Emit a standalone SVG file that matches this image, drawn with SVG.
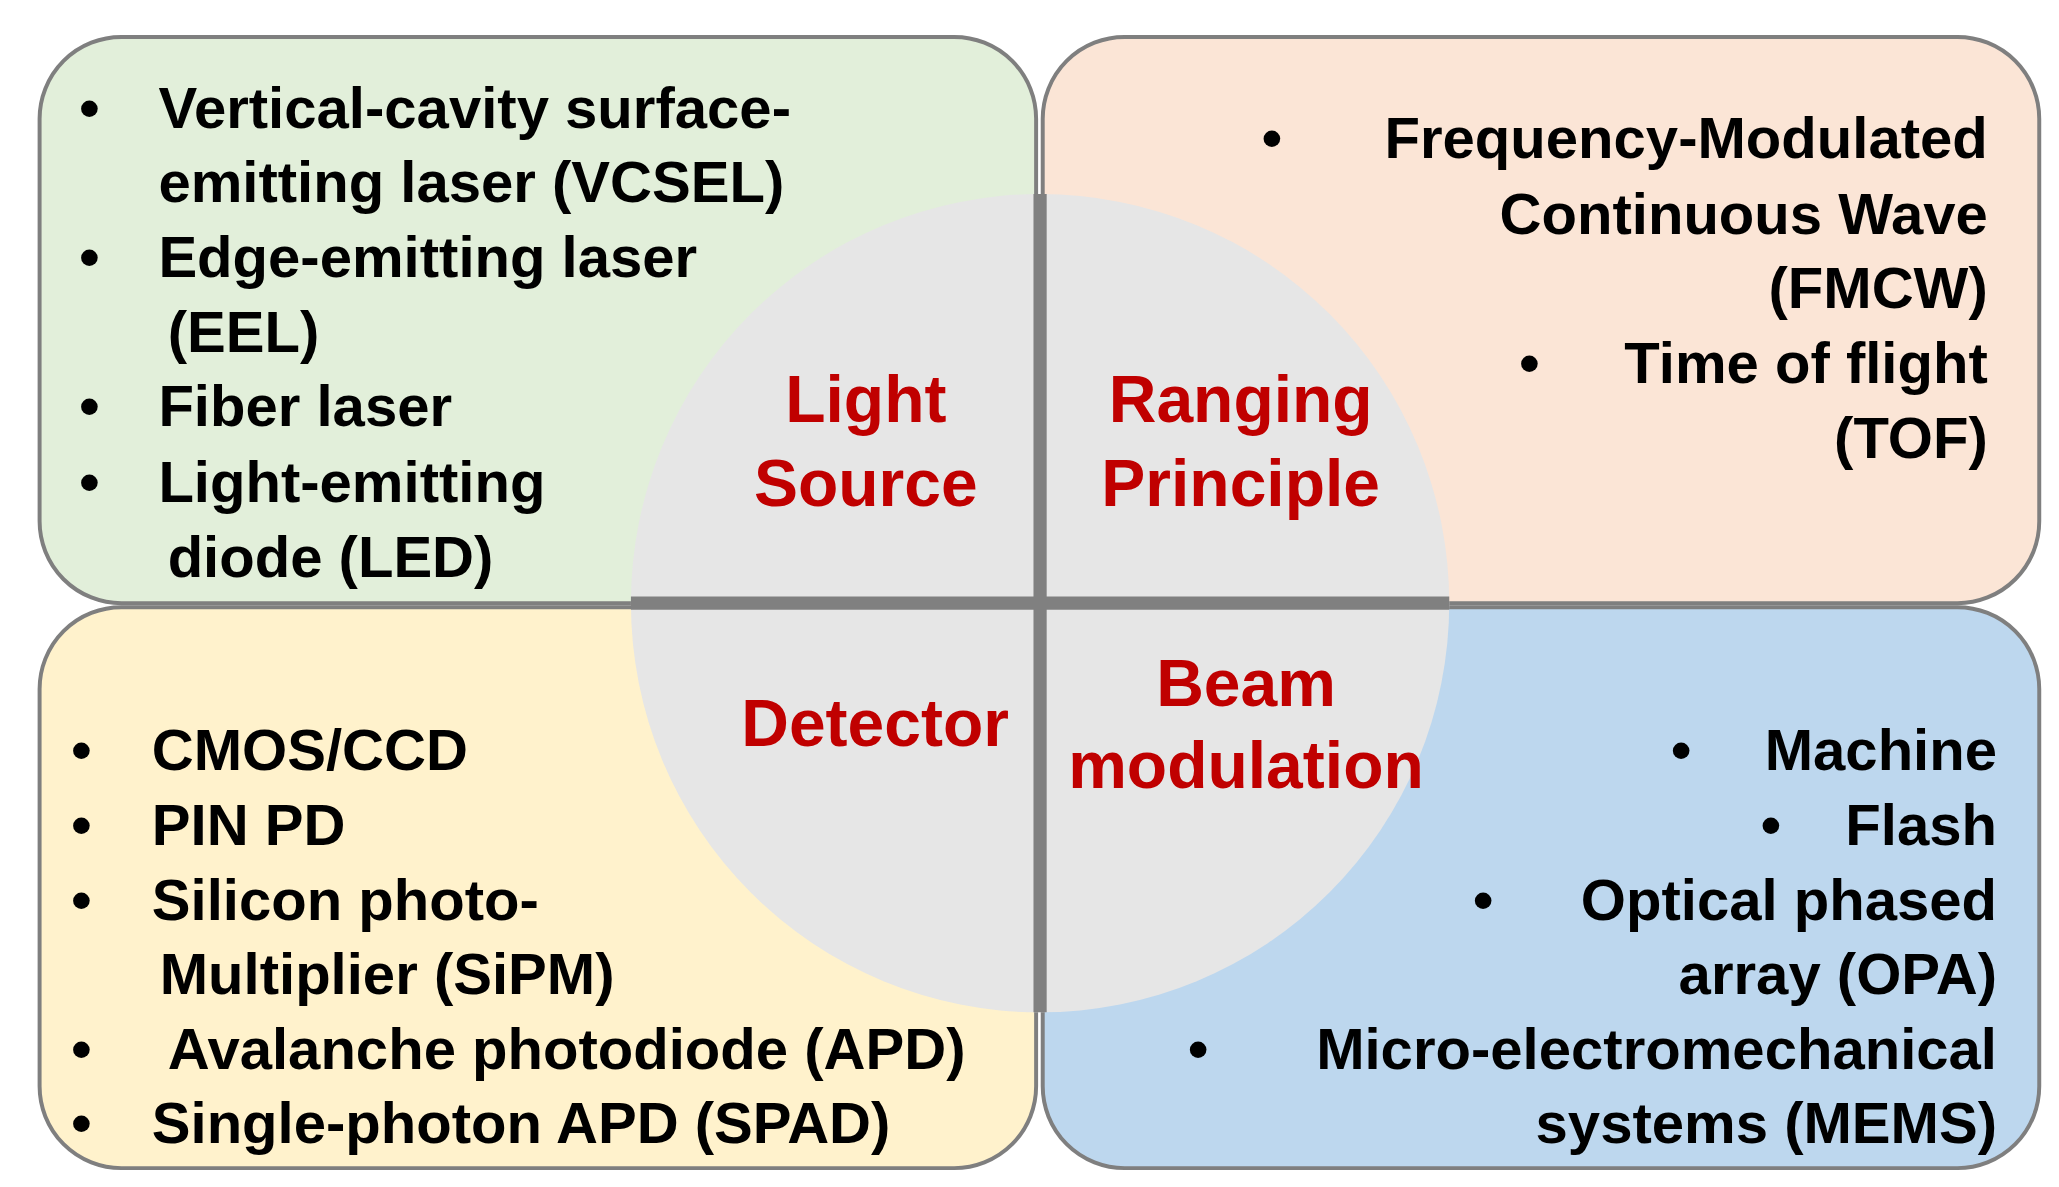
<svg xmlns="http://www.w3.org/2000/svg" width="2059" height="1187" viewBox="0 0 2059 1187">
<style>
.box{stroke:#7f7f7f;stroke-width:3}
.t{font-family:"Liberation Sans",Arial,sans-serif;font-weight:bold;font-size:44px;fill:#000}
.r{text-anchor:end}
.c{font-family:"Liberation Sans",Arial,sans-serif;font-weight:bold;font-size:50px;fill:#c00000;text-anchor:middle}
</style>
<rect width="2059" height="1187" fill="#fff"/>
<g transform="scale(1.3199)">
<g id="light-source-box"><rect class="box" x="30" y="28" width="755" height="429" rx="62" fill="#e2efda"/></g>
<g id="ranging-box"><rect class="box" x="790" y="28" width="755" height="429" rx="62" fill="#fbe5d6"/></g>
<g id="detector-box"><rect class="box" x="30" y="460" width="755" height="425" rx="62" fill="#fff2cc"/></g>
<g id="beam-box"><rect class="box" x="790" y="460" width="755" height="425" rx="62" fill="#bdd7ee"/></g>
<g id="center">
<ellipse cx="788" cy="457" rx="310" ry="310" fill="#e6e6e6"/>
<line x1="788" y1="147" x2="788" y2="767" stroke="#808080" stroke-width="10"/>
<line x1="478" y1="457" x2="1098" y2="457" stroke="#808080" stroke-width="10"/>
<text class="c" x="656" y="320">Light</text>
<text class="c" x="656" y="383">Source</text>
<text class="c" x="940" y="320">Ranging</text>
<text class="c" x="940" y="383">Principle</text>
<text class="c" x="663" y="565">Detector</text>
<text class="c" x="944" y="535">Beam</text>
<text class="c" x="944" y="597">modulation</text>
</g>
<g id="light-source-text" class="t">
<text x="60" y="97">•</text><text x="120" y="97">Vertical-cavity surface-</text>
<text x="120" y="153">emitting laser (VCSEL)</text>
<text x="60" y="210">•</text><text x="120" y="210">Edge-emitting laser</text>
<text x="127" y="267">(EEL)</text>
<text x="60" y="323">•</text><text x="120" y="323">Fiber laser</text>
<text x="60" y="380">•</text><text x="120" y="380">Light-emitting</text>
<text x="127" y="437">diode (LED)</text>
</g>
<g id="ranging-text" class="t">
<text x="956" y="120">•</text><text class="r" x="1506" y="120">Frequency-Modulated</text>
<text class="r" x="1506" y="177">Continuous Wave</text>
<text class="r" x="1506" y="233">(FMCW)</text>
<text x="1151" y="290">•</text><text class="r" x="1506" y="290">Time of flight</text>
<text class="r" x="1506" y="347">(TOF)</text>
</g>
<g id="detector-text" class="t">
<text x="54" y="583">•</text><text x="115" y="583">CMOS/CCD</text>
<text x="54" y="640">•</text><text x="115" y="640">PIN PD</text>
<text x="54" y="697">•</text><text x="115" y="697">Silicon photo-</text>
<text x="121" y="753">Multiplier (SiPM)</text>
<text x="54" y="810">•</text><text x="127" y="810">Avalanche photodiode (APD)</text>
<text x="54" y="866">•</text><text x="115" y="866">Single-photon APD (SPAD)</text>
</g>
<g id="beam-text" class="t">
<text x="1266" y="583">•</text><text class="r" x="1513" y="583">Machine</text>
<text x="1334" y="640">•</text><text class="r" x="1513" y="640">Flash</text>
<text x="1116" y="697">•</text><text class="r" x="1513" y="697">Optical phased</text>
<text class="r" x="1513" y="753">array (OPA)</text>
<text x="900" y="810">•</text><text class="r" x="1513" y="810">Micro-electromechanical</text>
<text class="r" x="1513" y="866">systems (MEMS)</text>
</g>
</g>
</svg>
